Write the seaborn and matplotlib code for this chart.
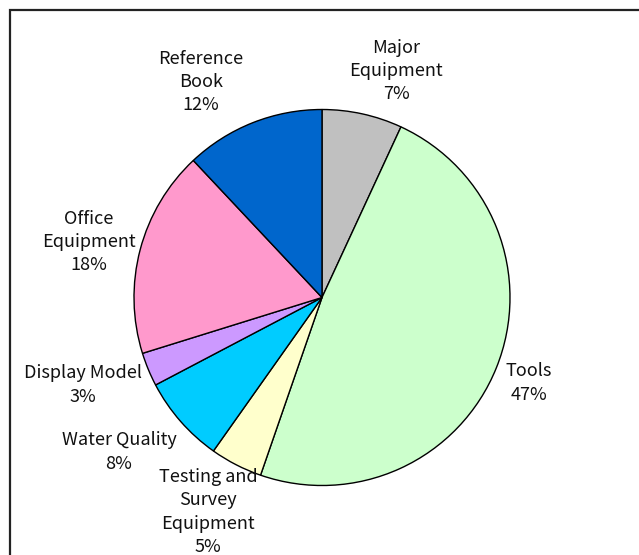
import matplotlib
matplotlib.use("Agg")
import matplotlib.pyplot as plt
import seaborn as sns
from matplotlib.patches import Rectangle

sns.set_theme(style="white")
plt.rcParams['font.family'] = ['Noto Sans CJK JP', 'DejaVu Sans']

categories = ["Major\nEquipment", "Tools", "Testing and\nSurvey\nEquipment", "Water Quality",
              "Display Model", "Office\nEquipment", "Reference\nBook"]
# slice sizes (percent)
values = [6.9, 48.4, 4.5, 7.5, 2.9, 17.8, 12.0]
# percentage labels as printed on the chart
pct_labels = ["7%", "47%", "5%", "8%", "3%", "18%", "12%"]
colors = ["#C0C0C0", "#CCFFCC", "#FFFFCC", "#00CCFF", "#CC99FF", "#FF99CC", "#0066CC"]
# label block centres in pixel coordinates (x from left, y from top)
label_pos = [(396, 71), (529, 383), (208, 512), (119, 452), (83, 385), (89, 242), (201, 82)]

W, H = 639, 555
fig = plt.figure(figsize=(W / 100, H / 100), dpi=100)
fig.patch.set_facecolor("white")
ax = fig.add_axes([0, 0, 1, 1])
ax.axis("off")

ax.pie(values, colors=colors, startangle=90, counterclock=False,
       center=(322, H - 297.5), radius=188,
       wedgeprops=dict(edgecolor="black", linewidth=1.0))
ax.set_xlim(0, W)
ax.set_ylim(0, H)
ax.set_aspect("equal")

for cat, p, (x, y) in zip(categories, pct_labels, label_pos):
    ax.text(x, H - y, f"{cat}\n{p}", ha="center", va="center",
            fontsize=13, linespacing=1.38, color="#111111")

# outer frame (cut off at right and bottom)
ax.add_patch(Rectangle((10, -20), 700, H - 10 + 20, fill=False, edgecolor="#222222",
                       linewidth=1.6, clip_on=False))

fig.savefig("out.png", dpi=100)
